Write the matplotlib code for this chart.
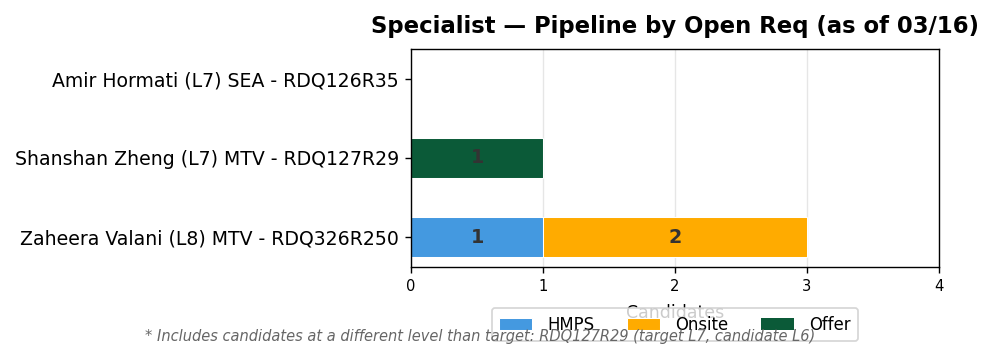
import matplotlib
matplotlib.use("Agg")
import matplotlib.pyplot as plt
import numpy as np

reqs = ["Zaheera Valani (L8) MTV - RDQ326R250",
        "Shanshan Zheng (L7) MTV - RDQ127R29",
        "Amir Hormati (L7) SEA - RDQ126R35"]
stages = ["HMPS", "Onsite", "Offer"]
hmps = [1, 0, 0]
onsite = [2, 0, 0]
offer = [0, 1, 0]
colors = ["#4499e0", "#ffab00", "#0b5a38"]
title = "Specialist \u2014 Pipeline by Open Req (as of 03/16)"
footnote = "* Includes candidates at a different level than target: RDQ127R29 (target L7, candidate L6)"

fig = plt.figure(figsize=(9.96 / 1.25, 3.59 / 1.25), dpi=125)
ax = fig.add_axes([0.4127, 0.2563, 0.5301, 0.6072])

y = np.arange(len(reqs))
left = np.zeros(len(reqs))
for name, vals, c in zip(stages, [hmps, onsite, offer], colors):
    vals = np.array(vals, dtype=float)
    bars = ax.barh(y, vals, left=left, height=0.5, color=c, label=name,
                   edgecolor="white", linewidth=0.6, zorder=3)
    for b, v in zip(bars, vals):
        if v > 0:
            ax.text(b.get_x() + b.get_width() / 2, b.get_y() + b.get_height() / 2,
                    f"{int(v)}", ha="center", va="center", fontsize=11,
                    fontweight="bold", color="#333333", zorder=4)
        else:
            b.set_linewidth(0)
    left += vals

for sp in ax.spines.values():
    sp.set_zorder(6)

ax.set_yticks(y)
ax.set_yticklabels(reqs, fontsize=10.9)
ax.set_xlim(0, 4)
ax.set_xticks([0, 1, 2, 3, 4])
ax.tick_params(axis="x", labelsize=8.5)
ax.grid(axis="x", color="#e6e6e6", linewidth=0.8, zorder=0)
ax.set_axisbelow(True)
ax.set_xlabel("Candidates", fontsize=10, labelpad=5.5)
ax.set_title(title, fontsize=13.1, fontweight="bold", pad=9.5)
ax.legend(loc="upper center", bbox_to_anchor=(0.5, -0.151), ncol=3,
          fontsize=9.5, frameon=True, handlelength=2.0, columnspacing=2.0,
          handletextpad=0.9, borderpad=0.45)
fig.text(0.482, 0.064, footnote, ha="center", va="center", fontsize=8.4,
         style="italic", color="#666666")
fig.savefig("out.png", dpi=125)
